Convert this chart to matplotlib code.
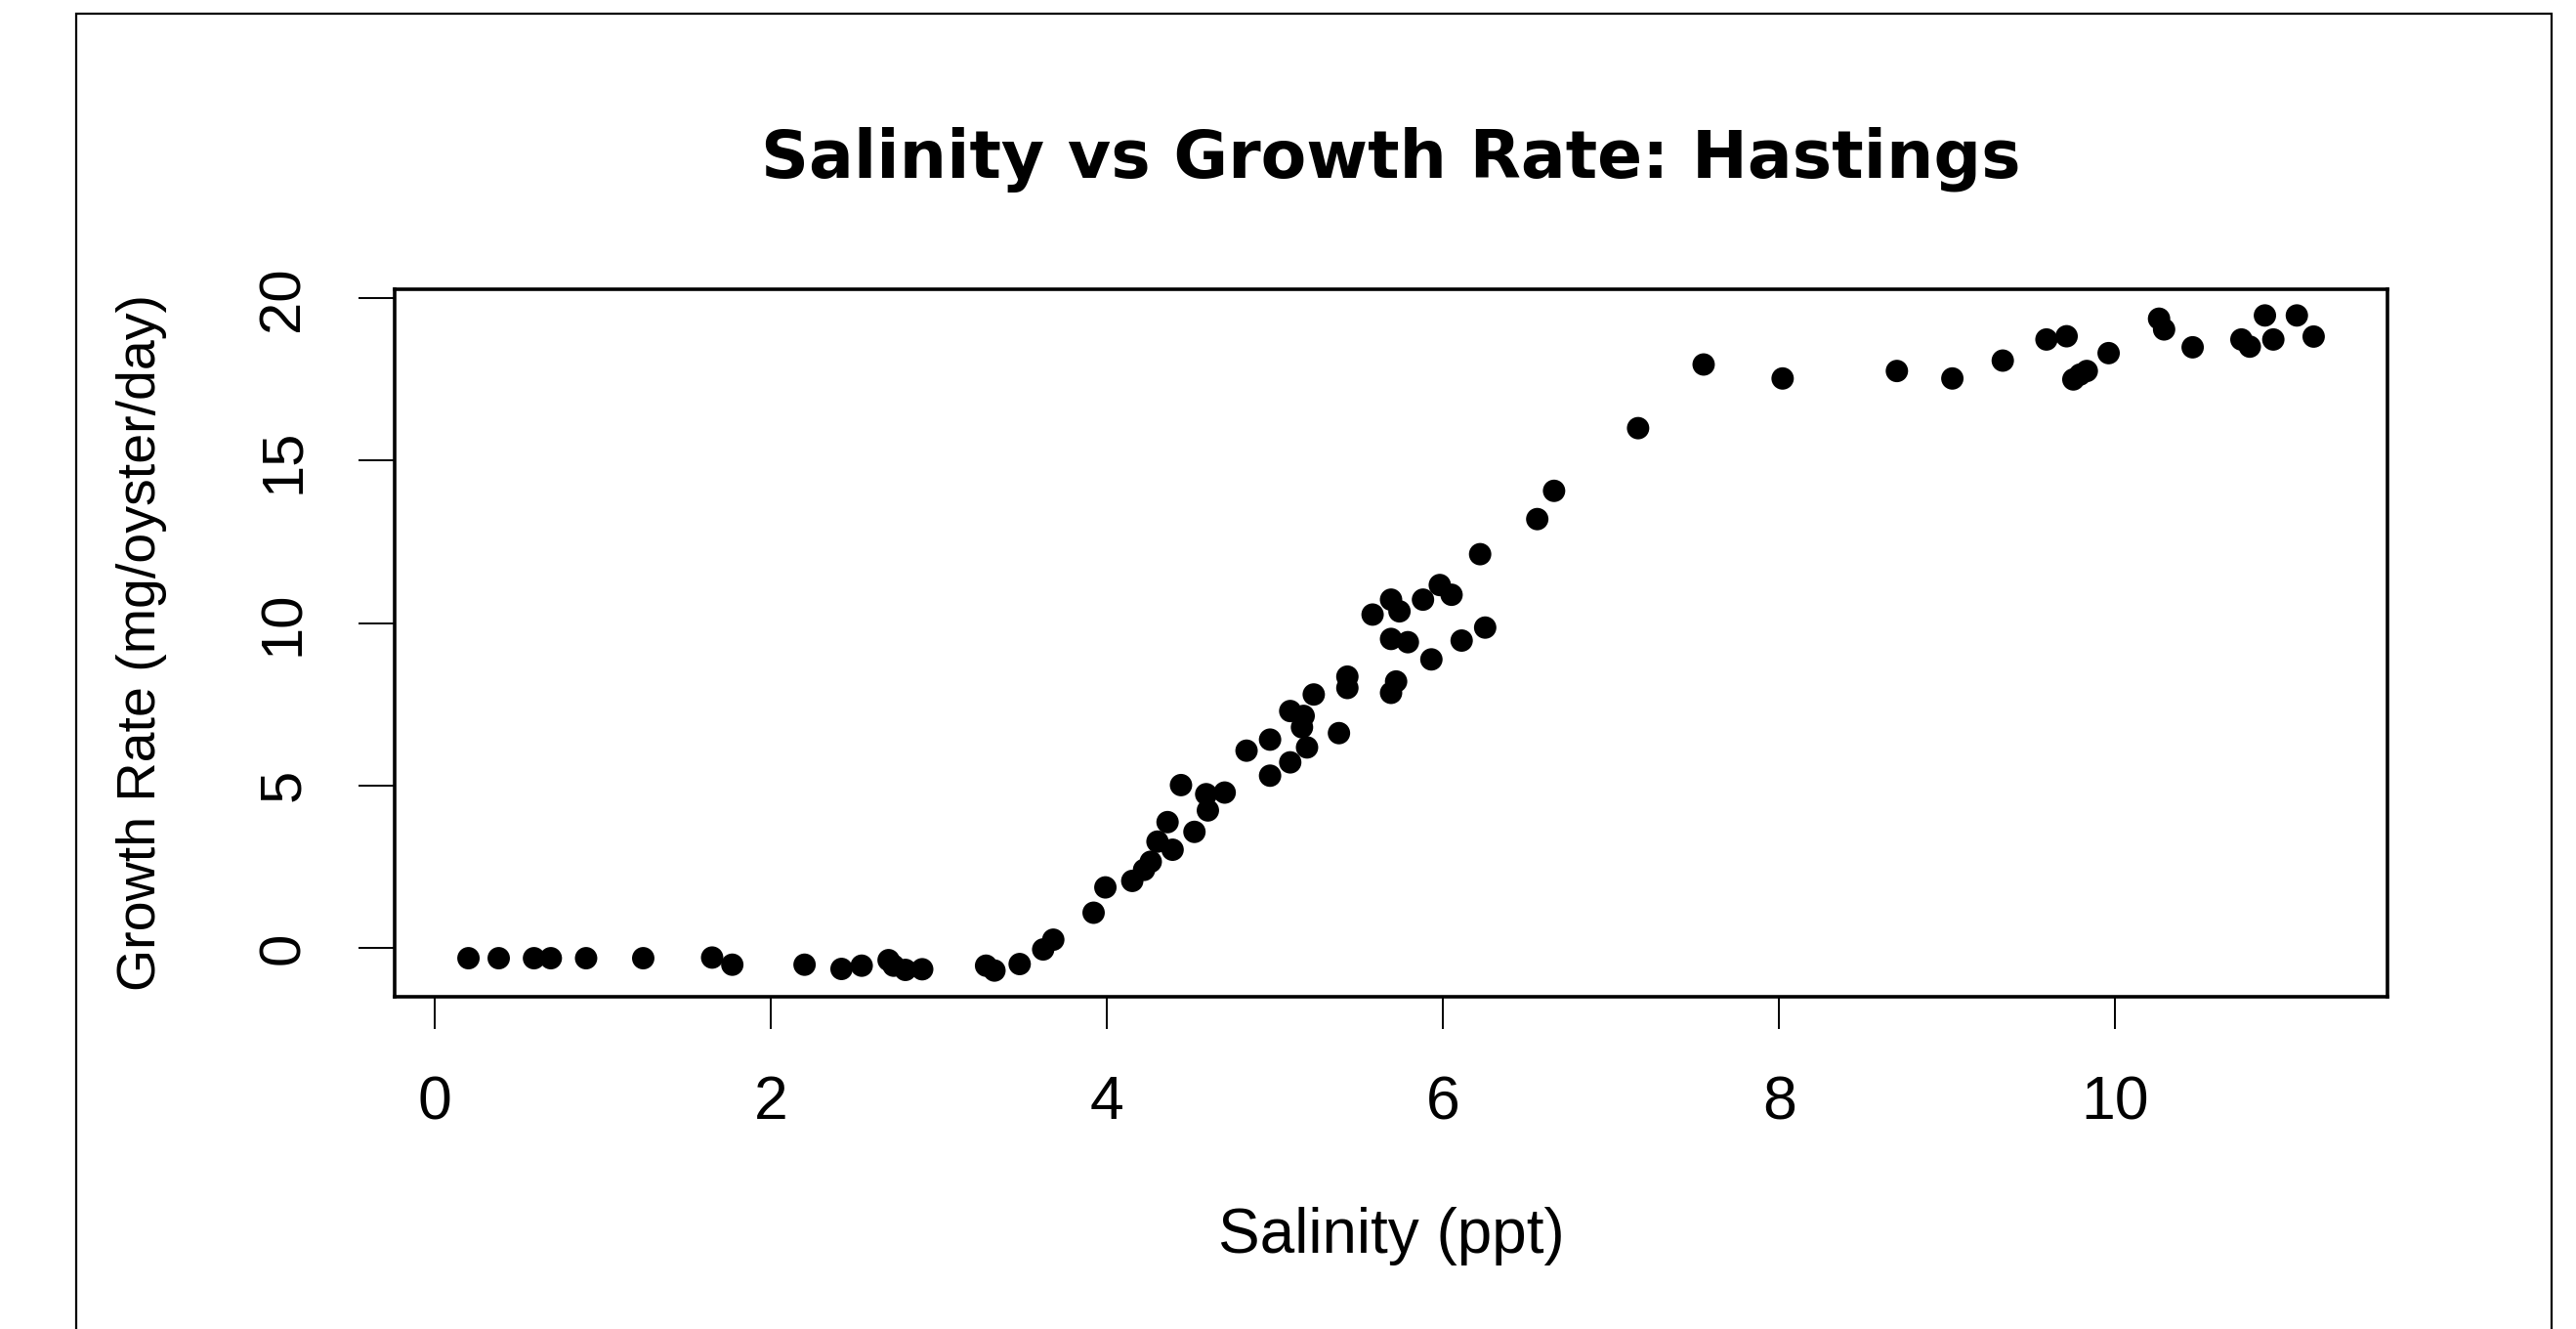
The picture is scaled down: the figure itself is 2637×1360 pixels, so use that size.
import numpy as np
import matplotlib.pyplot as plt
from matplotlib.patches import Rectangle

# salinity (ppt) and growth rate (mg/oyster/day)
salinity = [0.20, 0.38, 0.59, 0.69, 0.90, 1.24, 1.65, 1.77, 2.20, 2.42,
            2.54, 2.70, 2.73, 2.80, 2.90, 3.28, 3.33, 3.48, 3.62, 3.68,
            3.92, 3.99, 4.15, 4.22, 4.26, 4.30, 4.36, 4.39, 4.44, 4.52,
            4.59, 4.60, 4.70, 4.83, 4.97, 4.97, 5.09, 5.09, 5.16, 5.17,
            5.19, 5.23, 5.38, 5.43, 5.43, 5.58, 5.69, 5.74, 5.69, 5.79,
            5.72, 5.69, 5.88, 5.93, 5.98, 6.05, 6.11, 6.25, 6.22, 6.56,
            6.66, 7.16, 7.55, 8.02, 8.70, 9.03, 9.33, 9.59, 9.71, 9.75,
            9.79, 9.83, 9.96, 10.26, 10.29, 10.46, 10.75, 10.80, 10.94, 10.89,
            11.08, 11.18]
growth = [-0.32, -0.32, -0.32, -0.32, -0.32, -0.32, -0.30, -0.52, -0.52, -0.65,
          -0.55, -0.38, -0.55, -0.68, -0.66, -0.55, -0.70, -0.50, -0.05, 0.25,
          1.08, 1.86, 2.06, 2.40, 2.65, 3.27, 3.87, 3.02, 5.01, 3.57,
          4.73, 4.23, 4.78, 6.07, 6.41, 5.30, 5.71, 7.29, 6.79, 7.14,
          6.17, 7.80, 6.61, 8.35, 8.00, 10.26, 10.72, 10.36, 9.51, 9.41,
          8.20, 7.85, 10.72, 8.88, 11.17, 10.87, 9.46, 9.86, 12.12, 13.20,
          14.07, 16.00, 17.96, 17.53, 17.76, 17.53, 18.08, 18.73, 18.83, 17.50,
          17.65, 17.76, 18.31, 19.37, 19.04, 18.49, 18.73, 18.51, 18.73, 19.47,
          19.47, 18.82]
xticks = [0, 2, 4, 6, 8, 10]
yticks = [0, 5, 10, 15, 20]

plt.rcParams['font.family'] = ['Liberation Sans', 'DejaVu Sans']

W, H = 2637, 1360
fig = plt.figure(figsize=(W/100, H/100), dpi=100)
fig.patch.set_facecolor('white')

# screenshot frame
fig.add_artist(Rectangle((78/W, -0.1), (2612-78)/W, 1.1 - 14/H, transform=fig.transFigure,
                         fill=False, ec='black', lw=1.6))

ax = fig.add_axes([404/W, 1 - 1020/H, (2444-404)/W, (1020-296)/H])
ax.scatter(salinity, growth, s=16.5**2, c='black', edgecolors='none')

# R style 4% padding
x = np.array(salinity)
y = np.array(growth)
px = 0.04*(x.max() - x.min())
py = 0.04*(y.max() - y.min())
ax.set_xlim(x.min() - px, x.max() + px)
ax.set_ylim(y.min() - py, y.max() + py)

ax.set_xticks(xticks)
ax.set_yticks(yticks)
ax.set_yticklabels([str(v) for v in yticks], rotation=90, va='center')
ax.tick_params(axis='x', length=24, width=1.4, pad=33, labelsize=45)
ax.tick_params(axis='y', length=27, width=1.4, pad=35, labelsize=43)
for sp in ax.spines.values():
    sp.set_linewidth(2.6)

ax.set_title('Salinity vs Growth Rate: Hastings', fontsize=49, fontweight='bold', pad=82,
             family=['DejaVu Sans'])
ax.set_xlabel('Salinity (ppt)', fontsize=46, labelpad=55)
ax.set_ylabel('Growth Rate (mg/oyster/day)', fontsize=40, labelpad=66)

fig.savefig('out.png', dpi=100)
